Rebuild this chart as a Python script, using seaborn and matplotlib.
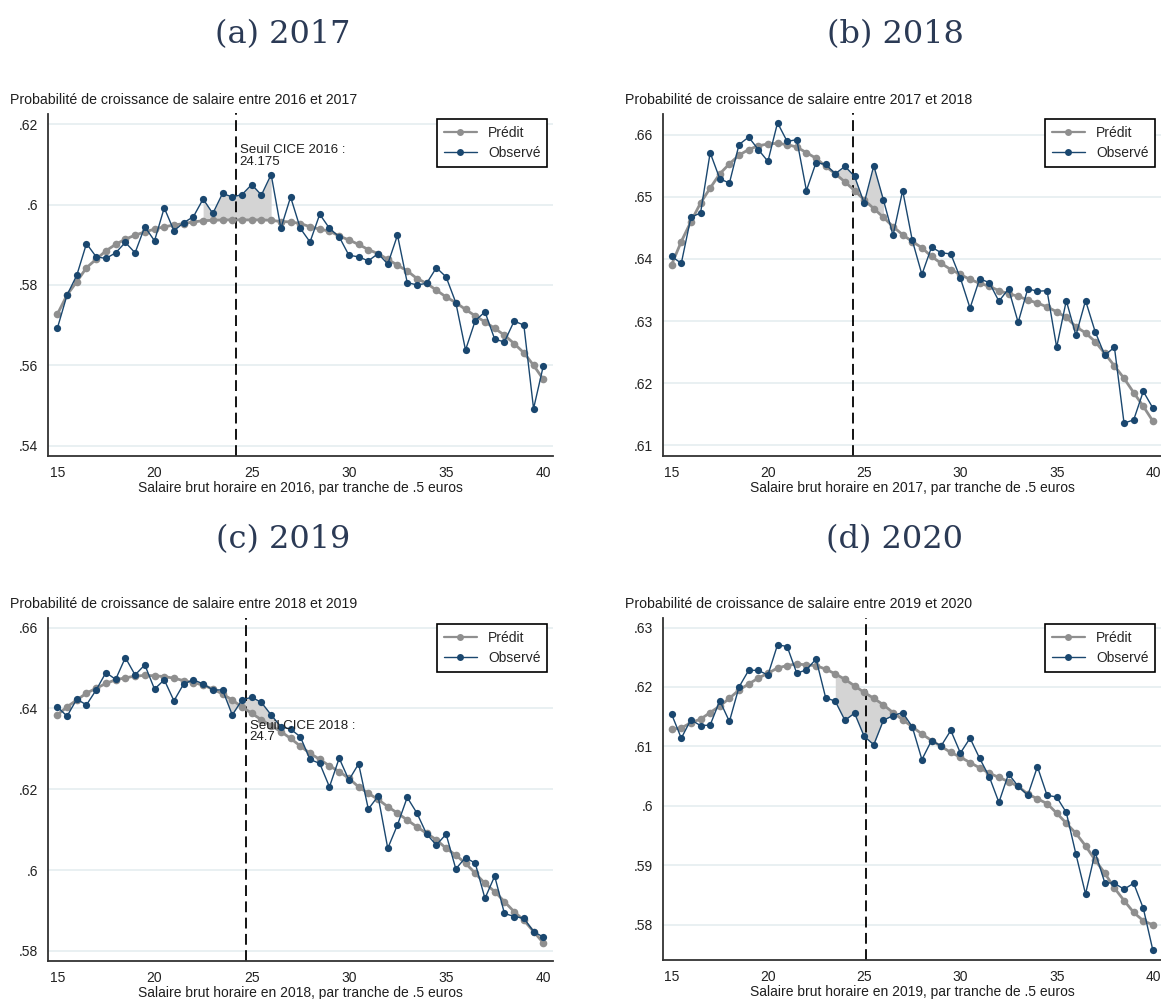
import numpy as np
import pandas as pd
import matplotlib
matplotlib.use("Agg")
import matplotlib.pyplot as plt
import seaborn as sns
from matplotlib.lines import Line2D

# ---------------- data ----------------
x_bins = [15.0, 15.5, 16.0, 16.5, 17.0, 17.5, 18.0, 18.5, 19.0, 19.5,
          20.0, 20.5, 21.0, 21.5, 22.0, 22.5, 23.0, 23.5, 24.0, 24.5,
          25.0, 25.5, 26.0, 26.5, 27.0, 27.5, 28.0, 28.5, 29.0, 29.5,
          30.0, 30.5, 31.0, 31.5, 32.0, 32.5, 33.0, 33.5, 34.0, 34.5,
          35.0, 35.5, 36.0, 36.5, 37.0, 37.5, 38.0, 38.5, 39.0, 39.5, 40.0]

obs_2017 = [.5692, .5775, .5824, .5903, .5870, .5866, .5880, .5906, .5880, .5945,
            .5910, .5992, .5935, .5955, .5970, .6014, .5978, .6028, .6019, .6025,
            .6050, .6024, .6075, .5941, .6019, .5941, .5907, .5976, .5941, .5920,
            .5874, .5870, .5860, .5878, .5852, .5924, .5806, .5800, .5804, .5843,
            .5820, .5756, .5638, .5711, .5733, .5665, .5658, .5710, .5700, .5492, .5598]
pred_2017 = [.5727, .5775, .5808, .5843, .5864, .5885, .5901, .5914, .5924, .5932,
             .5939, .5945, .5949, .5953, .5957, .5960, .5961, .5962, .5962, .5962,
             .5962, .5962, .5961, .5958, .5957, .5953, .5945, .5939, .5934, .5922,
             .5912, .5901, .5888, .5878, .5864, .5849, .5835, .5816, .5804, .5787,
             .5770, .5756, .5739, .5723, .5708, .5692, .5675, .5654, .5631, .5600, .5565]

obs_2018 = [.6404, .6393, .6467, .6474, .6571, .6529, .6522, .6584, .6596, .6576,
            .6557, .6619, .6589, .6592, .6510, .6555, .6552, .6537, .6549, .6533,
            .6490, .6550, .6495, .6438, .6510, .6430, .6375, .6419, .6410, .6408,
            .6369, .6321, .6368, .6362, .6332, .6352, .6298, .6352, .6348, .6349,
            .6258, .6333, .6277, .6333, .6283, .6245, .6258, .6136, .6141, .6187, .6160]
pred_2018 = [.6391, .6428, .6460, .6490, .6514, .6537, .6553, .6567, .6576, .6582,
             .6585, .6586, .6584, .6580, .6571, .6562, .6549, .6537, .6524, .6510,
             .6495, .6481, .6467, .6452, .6439, .6428, .6418, .6404, .6393, .6383,
             .6375, .6367, .6361, .6356, .6349, .6344, .6340, .6334, .6329, .6323,
             .6315, .6306, .6291, .6281, .6267, .6248, .6228, .6208, .6185, .6163, .6139]

obs_2019 = [.6404, .6381, .6423, .6409, .6446, .6489, .6472, .6526, .6483, .6508,
            .6448, .6471, .6419, .6461, .6471, .6461, .6446, .6446, .6384, .6421,
            .6428, .6415, .6384, .6355, .6349, .6330, .6274, .6264, .6206, .6277,
            .6223, .6263, .6151, .6183, .6054, .6112, .6180, .6141, .6089, .6062,
            .6089, .6003, .6031, .6017, .5930, .5985, .5893, .5885, .5881, .5848, .5834]
pred_2019 = [.6384, .6404, .6421, .6438, .6450, .6462, .6471, .6476, .6480, .6482,
             .6481, .6479, .6475, .6469, .6464, .6458, .6448, .6436, .6421, .6404,
             .6388, .6372, .6357, .6343, .6326, .6307, .6289, .6274, .6258, .6244,
             .6227, .6206, .6190, .6175, .6157, .6141, .6124, .6107, .6091, .6075,
             .6054, .6037, .6017, .5992, .5967, .5947, .5922, .5897, .5876, .5848, .5820]

obs_2020 = [.6154, .6114, .6145, .6135, .6136, .6177, .6142, .6200, .6228, .6228,
            .6220, .6271, .6268, .6223, .6229, .6247, .6182, .6176, .6144, .6156,
            .6117, .6103, .6144, .6152, .6157, .6133, .6078, .6110, .6101, .6127,
            .6089, .6114, .6080, .6049, .6006, .6054, .6033, .6018, .6066, .6018,
            .6015, .5989, .5919, .5852, .5922, .5871, .5870, .5860, .5870, .5828, .5757]
pred_2020 = [.6129, .6131, .6140, .6146, .6157, .6168, .6181, .6195, .6205, .6215,
             .6223, .6232, .6236, .6239, .6237, .6236, .6230, .6222, .6213, .6202,
             .6191, .6181, .6170, .6157, .6145, .6133, .6121, .6110, .6100, .6090,
             .6082, .6073, .6064, .6055, .6048, .6041, .6033, .6020, .6012, .6004,
             .5988, .5971, .5954, .5933, .5909, .5887, .5862, .5841, .5821, .5807, .5800]

thresholds = [24.175, 24.4, 24.7, 25.075]
panel_titles = ["(a) 2017", "(b) 2018", "(c) 2019", "(d) 2020"]
subtitles = ["Probabilité de croissance de salaire entre 2016 et 2017",
             "Probabilité de croissance de salaire entre 2017 et 2018",
             "Probabilité de croissance de salaire entre 2018 et 2019",
             "Probabilité de croissance de salaire entre 2019 et 2020"]
xlabels = ["Salaire brut horaire en 2016, par tranche de .5 euros",
           "Salaire brut horaire en 2017, par tranche de .5 euros",
           "Salaire brut horaire en 2018, par tranche de .5 euros",
           "Salaire brut horaire en 2019, par tranche de .5 euros"]
annotations = ["Seuil CICE 2016 :\n24.175", None, "Seuil CICE 2018 :\n24.7", None]
yticks_list = [[.54, .56, .58, .6, .62],
               [.61, .62, .63, .64, .65, .66],
               [.58, .6, .62, .64, .66],
               [.58, .59, .6, .61, .62, .63]]
ytick_labels_list = [[".54", ".56", ".58", ".6", ".62"],
                     [".61", ".62", ".63", ".64", ".65", ".66"],
                     [".58", ".6", ".62", ".64", ".66"],
                     [".58", ".59", ".6", ".61", ".62", ".63"]]
xticks = [15, 20, 25, 30, 35, 40]
xtick_labels = ["15", "20", "25", "30", "35", "40"]
series_names = ["Prédit", "Observé"]

observed = [obs_2017, obs_2018, obs_2019, obs_2020]
predicted = [pred_2017, pred_2018, pred_2019, pred_2020]

# ---------------- style ----------------
sns.set_style("white")
plt.rcParams["font.family"] = ["Liberation Sans", "DejaVu Sans"]

W, H = 1161, 999
fig = plt.figure(figsize=(W / 100, H / 100), dpi=100)

C_OBS = "#1a476f"
C_PRED = "#8f8f8f"
C_FILL = "#d4d4d4"
C_GRID = "#e7eff1"
C_TXT = "#1e1e1e"

# axes rectangles in pixels: (left, top, right, bottom)
rects_px = [(48, 113.5, 553, 456), (663, 113.5, 1161, 456),
            (48, 618, 553, 961), (663, 618, 1161, 960)]
ylims = [(.5374, .6227), (.6083, .6634), (.5775, .6624), (.5741, .6316)]
xlims = [(14.52, 40.5), (14.55, 40.42), (14.52, 40.5), (14.55, 40.42)]
title_pos = [(283, 35), (895, 35), (283, 540), (895, 540)]
sub_pos = [(10, 100), (625, 100), (10, 604), (625, 604)]
annot_y = [.6150, None, .6372, None]

for i in range(4):
    l, t, r, b = rects_px[i]
    ax = fig.add_axes([l / W, 1 - b / H, (r - l) / W, (b - t) / H])
    ax.set_xlim(*xlims[i])
    ax.set_ylim(*ylims[i])

    df = pd.DataFrame({"x": x_bins, "obs": observed[i], "pred": predicted[i]})

    # grid
    for yt in yticks_list[i]:
        ax.axhline(yt, color=C_GRID, lw=1.3, zorder=0)

    # shaded gap around the threshold
    thr = thresholds[i]
    m = (df["x"] >= thr - 2) & (df["x"] <= thr + 2)
    ax.fill_between(df.loc[m, "x"], df.loc[m, "pred"], df.loc[m, "obs"],
                    color=C_FILL, lw=0, zorder=1)

    sns.lineplot(data=df, x="x", y="pred", ax=ax, color=C_PRED, lw=2.0,
                 marker="o", markersize=5.5, markeredgewidth=0, zorder=3,
                 legend=False)
    sns.lineplot(data=df, x="x", y="obs", ax=ax, color=C_OBS, lw=1.0,
                 marker="o", markersize=5.2, markeredgewidth=0, zorder=4,
                 legend=False)

    ax.axvline(thr, color="black", lw=1.3, dashes=(6, 3), zorder=2)

    if annotations[i]:
        ax.text(thr + 0.2, annot_y[i], annotations[i], fontsize=9.5,
                color=C_TXT, ha="left", va="top", linespacing=0.95, zorder=5)

    ax.set_yticks(yticks_list[i])
    ax.set_yticklabels(ytick_labels_list[i])
    ax.set_xticks(xticks)
    ax.set_xticklabels(xtick_labels)
    ax.tick_params(axis="both", direction="out", length=5, width=1.0,
                   labelsize=10, colors="#222222", pad=2)
    ax.set_xlabel(xlabels[i], fontsize=10, color=C_TXT, labelpad=1)
    ax.set_ylabel("")
    for s in ["top", "right"]:
        ax.spines[s].set_visible(False)
    for s in ["left", "bottom"]:
        ax.spines[s].set_color("#333333")
        ax.spines[s].set_linewidth(1.3)

    handles = [Line2D([], [], color=C_PRED, lw=1.6, marker="o", markersize=5, markeredgewidth=0),
               Line2D([], [], color=C_OBS, lw=1.0, marker="o", markersize=5, markeredgewidth=0)]
    leg = ax.legend(handles, series_names, loc="upper right", fontsize=10,
                    frameon=True, fancybox=False, framealpha=1,
                    edgecolor="black", borderaxespad=0.4, handlelength=2.4,
                    handletextpad=0.8, borderpad=0.5, labelspacing=0.45)
    leg.get_frame().set_linewidth(1.2)

    fig.text(sub_pos[i][0] / W, 1 - sub_pos[i][1] / H, subtitles[i],
             fontsize=10.2, color=C_TXT, ha="left", va="center")
    fig.text(title_pos[i][0] / W, 1 - title_pos[i][1] / H, panel_titles[i],
             fontsize=23, family="DejaVu Serif", color="#2b3a55",
             ha="center", va="center")

fig.savefig("out.png", dpi=100)
